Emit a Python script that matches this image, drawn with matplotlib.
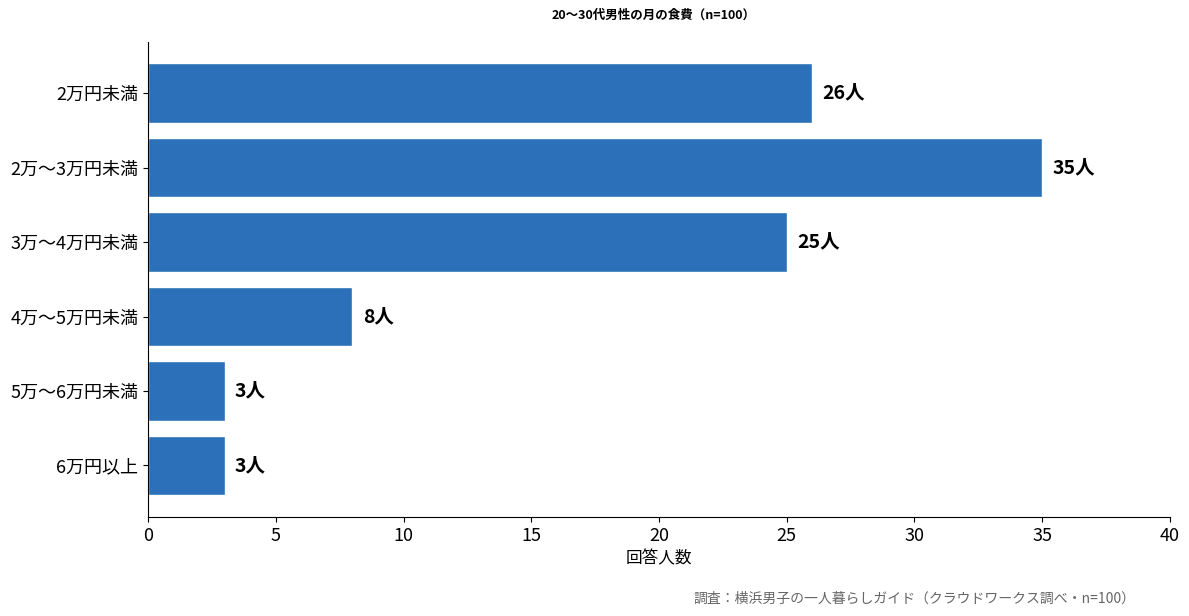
import matplotlib.pyplot as plt

plt.rcParams['font.family'] = ['Noto Sans CJK JP', 'DejaVu Sans']

categories = ['2万円未満', '2万〜3万円未満', '3万〜4万円未満', '4万〜5万円未満', '5万〜6万円未満', '6万円以上']
values = [26, 35, 25, 8, 3, 3]

fig = plt.figure(figsize=(11.89, 6.16), dpi=100)
ax = fig.add_axes([0.1245, 0.161, 0.8595, 0.771])

y = list(range(len(categories)))
ax.barh(y, values, height=0.8, color='#2b70b8', edgecolor='white', linewidth=1)
ax.invert_yaxis()
ax.set_yticks(y)
ax.set_yticklabels(categories, fontsize=13)
ax.set_xlim(0, 40)
ax.set_xticks(range(0, 41, 5))
ax.tick_params(axis='x', labelsize=13)
ax.set_xlabel('回答人数', fontsize=12)
ax.spines['top'].set_visible(False)
ax.spines['right'].set_visible(False)

for yi, v in zip(y, values):
    ax.text(v + 0.4, yi, f'{v}人', va='center', ha='left', fontsize=14, fontweight='bold')

fig.text(0.55, 0.975, '20〜30代男性の月の食費（n=100）', ha='center', va='center',
         fontsize=9, fontweight='bold')
fig.text(0.955, 0.028, '調査：横浜男子の一人暮らしガイド（クラウドワークス調べ・n=100）',
         ha='right', va='center', fontsize=10, color='#666666')

fig.savefig('out.png', dpi=100)
